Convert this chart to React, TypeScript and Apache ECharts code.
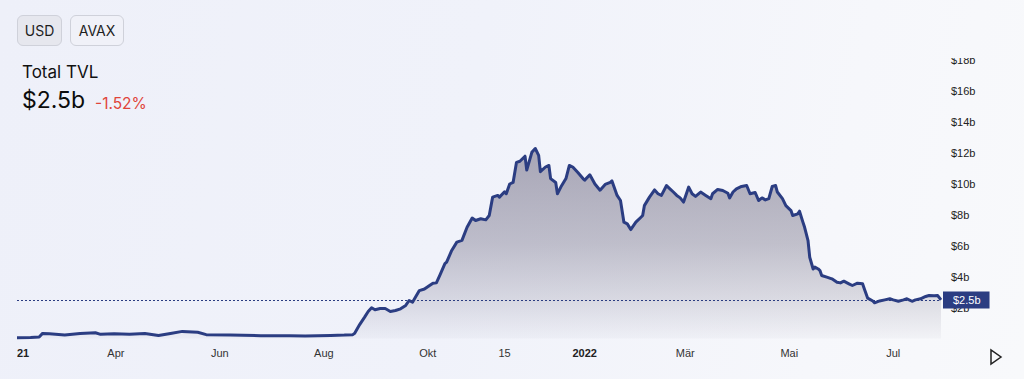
import React, { useEffect, useRef } from 'react';
import * as echarts from 'echarts';

const dates = [
  '2021-02-02', '2021-02-10', '2021-02-15', '2021-02-17', '2021-02-21', '2021-03-02', '2021-03-11', '2021-03-20',
  '2021-03-23', '2021-03-31', '2021-04-09', '2021-04-18', '2021-04-26', '2021-05-03', '2021-05-10', '2021-05-19',
  '2021-05-24', '2021-06-07', '2021-06-25', '2021-07-12', '2021-07-21', '2021-08-05', '2021-08-13', '2021-08-18',
  '2021-08-19', '2021-08-22', '2021-08-25', '2021-08-27', '2021-08-29', '2021-08-31', '2021-09-03', '2021-09-06',
  '2021-09-09', '2021-09-12', '2021-09-15', '2021-09-18', '2021-09-20', '2021-09-22', '2021-09-26', '2021-09-29',
  '2021-10-02', '2021-10-04', '2021-10-06', '2021-10-08', '2021-10-11', '2021-10-12', '2021-10-15', '2021-10-18',
  '2021-10-21', '2021-10-24', '2021-10-27', '2021-10-29', '2021-11-01', '2021-11-04', '2021-11-06', '2021-11-08',
  '2021-11-11', '2021-11-12', '2021-11-15', '2021-11-16', '2021-11-18', '2021-11-20', '2021-11-22', '2021-11-24',
  '2021-11-27', '2021-11-28', '2021-12-01', '2021-12-03', '2021-12-05', '2021-12-06', '2021-12-09', '2021-12-11',
  '2021-12-12', '2021-12-15', '2021-12-16', '2021-12-18', '2021-12-21', '2021-12-23', '2021-12-25', '2021-12-28',
  '2021-12-31', '2022-01-01', '2022-01-04', '2022-01-07', '2022-01-10', '2022-01-13', '2022-01-16', '2022-01-17',
  '2022-01-20', '2022-01-22', '2022-01-24', '2022-01-26', '2022-01-28', '2022-01-31', '2022-02-03', '2022-02-04',
  '2022-02-05', '2022-02-08', '2022-02-11', '2022-02-13', '2022-02-15', '2022-02-18', '2022-02-20', '2022-02-22',
  '2022-02-24', '2022-02-26', '2022-02-28', '2022-03-03', '2022-03-05', '2022-03-07', '2022-03-10', '2022-03-13',
  '2022-03-16', '2022-03-17', '2022-03-20', '2022-03-23', '2022-03-26', '2022-03-27', '2022-03-29', '2022-03-31',
  '2022-04-03', '2022-04-06', '2022-04-08', '2022-04-11', '2022-04-13', '2022-04-15', '2022-04-17', '2022-04-19',
  '2022-04-21', '2022-04-23', '2022-04-24', '2022-04-27', '2022-04-29', '2022-05-02', '2022-05-03', '2022-05-06',
  '2022-05-07', '2022-05-09', '2022-05-10', '2022-05-12', '2022-05-13', '2022-05-15', '2022-05-16', '2022-05-18',
  '2022-05-19', '2022-05-20', '2022-05-23', '2022-05-26', '2022-05-29', '2022-05-31', '2022-06-02', '2022-06-05',
  '2022-06-07', '2022-06-10', '2022-06-13', '2022-06-14', '2022-06-16', '2022-06-19', '2022-06-20', '2022-06-23',
  '2022-06-26', '2022-06-29', '2022-07-01', '2022-07-04', '2022-07-07', '2022-07-09', '2022-07-12', '2022-07-14',
  '2022-07-17', '2022-07-20', '2022-07-22', '2022-07-25', '2022-07-27', '2022-07-29',
];

const tvl = [
  0.05, 0.06, 0.1, 0.33, 0.3, 0.22, 0.33, 0.37,
  0.27, 0.3, 0.28, 0.33, 0.2, 0.33, 0.46, 0.4,
  0.25, 0.22, 0.18, 0.18, 0.16, 0.2, 0.22, 0.25,
  0.33, 0.9, 1.4, 1.75, 1.99, 1.86, 1.94, 1.94,
  1.75, 1.81, 1.92, 2.14, 2.46, 2.35, 3.1, 3.2,
  3.43, 3.58, 3.6, 4.08, 4.84, 4.94, 5.7, 6.24,
  6.35, 7.2, 7.8, 7.64, 7.75, 7.68, 7.96, 9.15,
  9.26, 9.15, 9.5, 9.37, 10.0, 10.1, 11.4, 11.47,
  11.8, 10.9, 12.05, 12.3, 11.85, 10.8, 11.1, 11.2,
  10.35, 10.1, 9.37, 9.8, 10.35, 11.2, 11.1, 10.74,
  10.35, 10.25, 10.6, 10.0, 9.6, 9.97, 10.1, 10.2,
  9.26, 8.93, 7.53, 7.42, 7.05, 7.53, 7.85, 7.96,
  8.6, 9.15, 9.62, 9.37, 9.26, 9.9, 9.69, 9.48,
  9.26, 9.1, 8.83, 9.8, 9.37, 9.2, 9.48, 9.26,
  9.05, 9.37, 9.65, 9.58, 9.4, 9.1, 9.48, 9.69,
  9.84, 9.9, 9.37, 9.45, 8.93, 9.1, 8.97, 9.05,
  9.84, 9.9, 9.48, 9.05, 8.6, 8.28, 7.96, 8.07,
  8.24, 7.53, 7.2, 6.34, 5.26, 4.5, 4.62, 4.5,
  4.4, 4.08, 3.97, 3.86, 3.64, 3.6, 3.71, 3.54,
  3.43, 3.58, 3.54, 3.22, 2.61, 2.43, 2.31, 2.43,
  2.5, 2.57, 2.5, 2.41, 2.5, 2.57, 2.41, 2.5,
  2.57, 2.72, 2.78, 2.76, 2.78, 2.5,
];

const xTickDates = ['2021-02-02', '2021-04-01', '2021-06-01', '2021-08-01', '2021-10-01', '2021-11-15', '2022-01-01', '2022-03-01', '2022-05-01', '2022-07-01'];
const xTickLabels = ['2021', 'Apr', 'Jun', 'Aug', 'Okt', '15', '2022', 'Mär', 'Mai', 'Jul'];
const yearLabels = ['2021', '2022'];

const xMin = '2021-02-02';
const xMax = '2022-07-29';
const yMin = 0;
const yMax = 18;
const yStep = 2;
const currentTvl = 2.5;
const currentLabel = '$2.5b';
const changeLabel = '-1.52%';

const LINE = '#2b3d82';
const AXIS_FONT = 'Liberation Sans, Arial, sans-serif';

function ts(s: string): number {
  const [y, m, d] = s.split('-').map(Number);
  return Date.UTC(y, m - 1, d);
}

export default function App() {
  const ref = useRef<HTMLDivElement>(null);

  useEffect(() => {
    if (!ref.current) return;
    const chart = echarts.init(ref.current, null, { renderer: 'svg' });
    const tickTs = xTickDates.map(ts);
    chart.setOption({
      animation: false,
      grid: {
        left: 0, right: 83, top: 2.4, bottom: 40.5,
        containLabel: false, outerBoundsMode: 'none',
      },
      xAxis: {
        type: 'value',
        min: ts(xMin),
        max: ts(xMax),
        axisLine: { show: false },
        axisTick: { show: false },
        splitLine: { show: false },
        axisLabel: {
          customValues: tickTs,
          margin: 9,
          fontSize: 11,
          fontFamily: AXIS_FONT,
          color: '#333',
          formatter: (v: number) => {
            let best = 0;
            tickTs.forEach((t, i) => {
              if (Math.abs(t - v) < Math.abs(tickTs[best] - v)) best = i;
            });
            const txt = xTickLabels[best];
            return yearLabels.includes(txt) ? `{b|${txt}}` : txt;
          },
          rich: {
            b: { fontWeight: 'bold', fontSize: 11, fontFamily: AXIS_FONT, color: '#222' },
          },
        },
      },
      yAxis: {
        type: 'value',
        position: 'right',
        min: yMin,
        max: yMax,
        interval: yStep,
        axisLine: { show: false },
        axisTick: { show: false },
        splitLine: { show: false },
        axisLabel: {
          showMinLabel: false,
          margin: 10,
          fontSize: 11,
          fontFamily: AXIS_FONT,
          color: '#222',
          formatter: (v: number) => `$${v}b`,
        },
      },
      series: [
        {
          type: 'line',
          data: dates.map((d, i) => [ts(d), tvl[i]]),
          symbol: 'none',
          silent: true,
          lineStyle: { color: LINE, width: 3, join: 'round' },
          areaStyle: {
            color: new echarts.graphic.LinearGradient(0, 0, 0, 1, [
              { offset: 0, color: 'rgba(95,90,115,0.72)' },
              { offset: 0.5, color: 'rgba(95,90,115,0.5)' },
              { offset: 0.8, color: 'rgba(95,90,115,0.25)' },
              { offset: 1, color: 'rgba(95,90,115,0.05)' },
            ]),
          },
          markLine: {
            silent: true,
            symbol: ['none', 'none'],
            lineStyle: { color: LINE, type: [2, 2], width: 1 },
            label: {
              position: 'end',
              formatter: currentLabel,
              backgroundColor: LINE,
              color: '#fff',
              fontSize: 11,
              fontFamily: AXIS_FONT,
              padding: [3, 9, 3, 10],
              distance: 2,
            },
            data: [{ yAxis: currentTvl }],
          },
        },
      ],
      graphic: [
        {
          type: 'polygon',
          shape: { points: [[974, 292], [974, 306], [984, 299]] },
          style: { fill: 'none', stroke: '#222', lineWidth: 1.5 },
        },
      ],
    });
    return () => chart.dispose();
  }, []);

  const btn: React.CSSProperties = {
    position: 'absolute',
    top: 15,
    height: 31,
    boxSizing: 'border-box',
    border: '1px solid #cfd1da',
    borderRadius: 6,
    fontFamily: 'Inter, sans-serif',
    fontSize: 14,
    color: '#1e1e1e',
    display: 'flex',
    alignItems: 'center',
    justifyContent: 'center',
  };

  return (
    <div
      style={{
        position: 'fixed',
        left: 0,
        top: 0,
        width: 1024,
        height: 379,
        overflow: 'hidden',
        background: 'linear-gradient(100deg, #eef0f9 0%, #f0f2fa 45%, #f6f7fb 80%, #f8f9fb 100%)',
      }}
    >
      <div ref={ref} style={{ position: 'absolute', left: 17, top: 58, width: 1007, height: 321 }} />
      <div style={{ ...btn, left: 17, width: 45, background: '#e6e7ee' }}>USD</div>
      <div style={{ ...btn, left: 70, width: 54, background: '#f0f1f8' }}>AVAX</div>
      <div
        style={{
          position: 'absolute', left: 22, top: 64, fontFamily: 'Inter, sans-serif', fontSize: 17,
          lineHeight: '17px', color: '#111', whiteSpace: 'nowrap',
        }}
      >
        Total TVL
      </div>
      <div
        style={{
          position: 'absolute', left: 22, top: 89, fontFamily: 'Inter, sans-serif', fontSize: 23,
          lineHeight: '23px', color: '#0c0c0c', whiteSpace: 'nowrap',
        }}
      >
        {currentLabel}
      </div>
      <div
        style={{
          position: 'absolute', left: 95, top: 95.5, fontFamily: 'Inter, sans-serif', fontSize: 15.5,
          lineHeight: '15.5px', color: '#e0443a', whiteSpace: 'nowrap',
        }}
      >
        {changeLabel}
      </div>
    </div>
  );
}
